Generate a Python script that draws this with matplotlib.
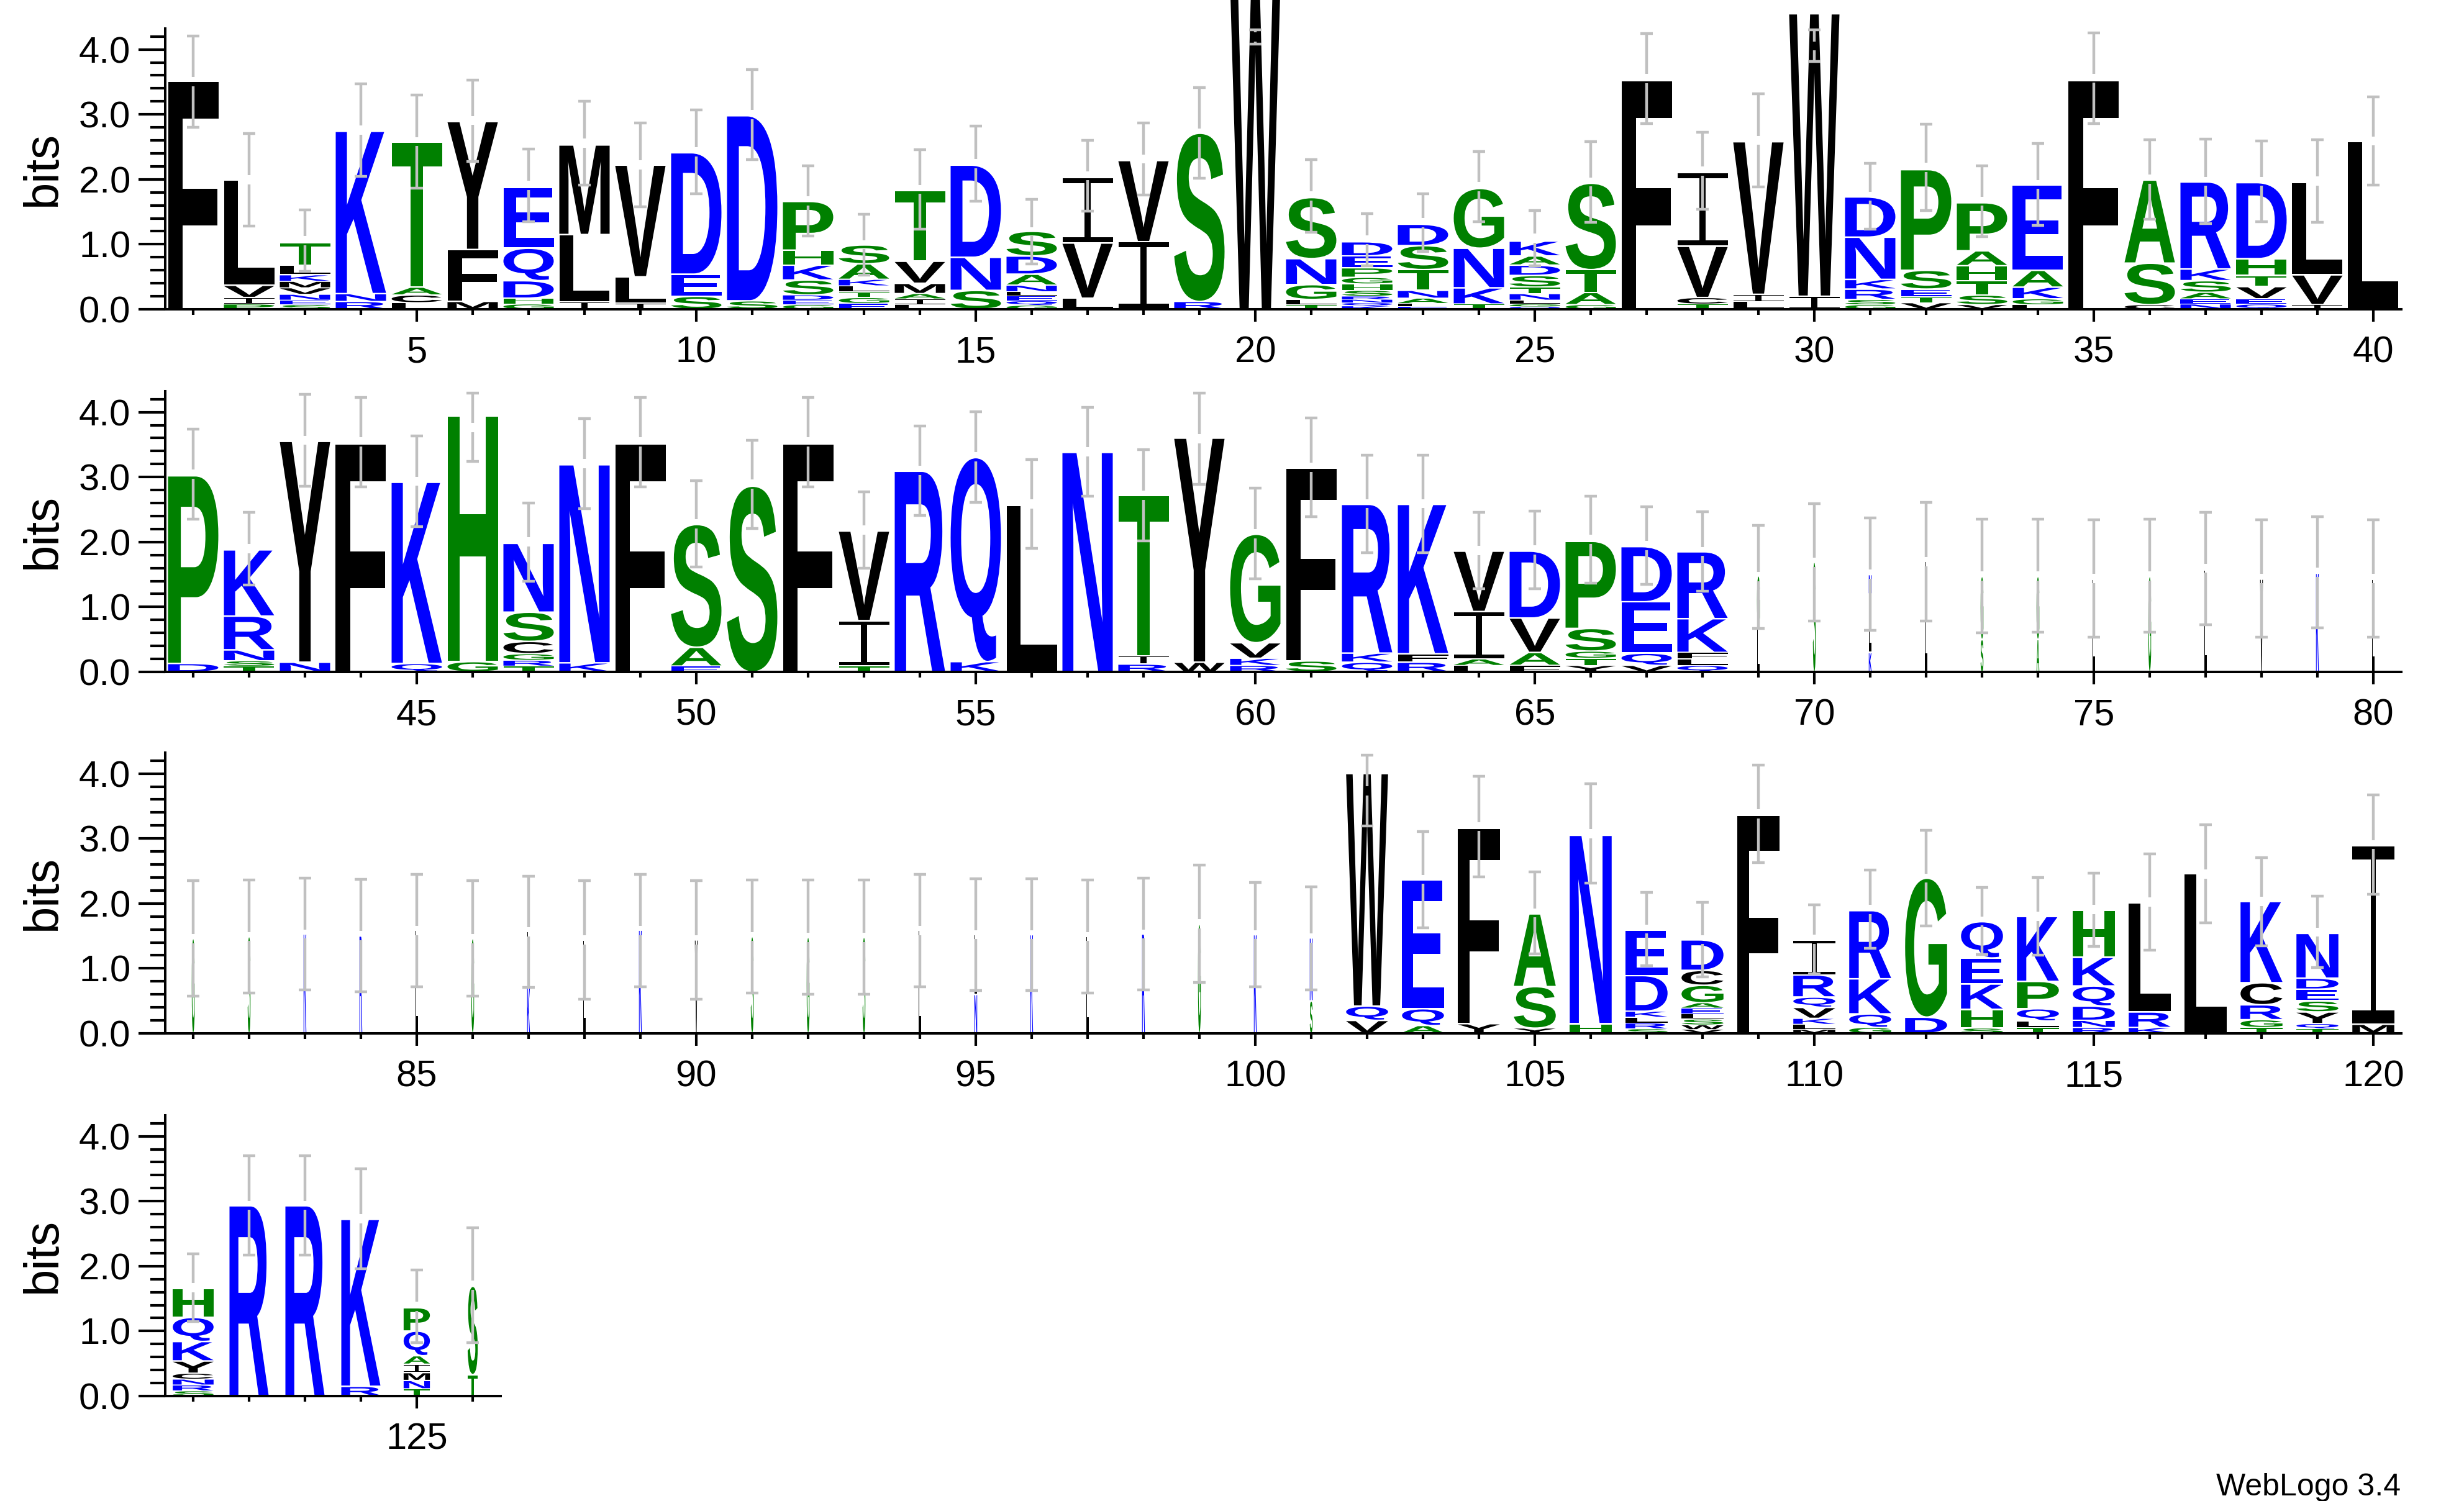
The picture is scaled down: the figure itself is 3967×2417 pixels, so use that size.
import matplotlib
matplotlib.use("Agg")
import matplotlib.pyplot as plt
from matplotlib.textpath import TextPath
from matplotlib.font_manager import FontProperties
from matplotlib.patches import PathPatch
from matplotlib.path import Path
from matplotlib.transforms import Affine2D
from matplotlib.ticker import FixedLocator, MultipleLocator, FormatStrFormatter

plt.rcParams['font.family'] = ['Liberation Sans', 'DejaVu Sans']

# ---------------- data (letter, bits), bottom -> top ----------------
stacks_row1 = [
    [('F', 3.51)],
    [('P', .08), ('I', .10), ('V', .19), ('L', 1.62)],
    [('S', .07), ('E', .07), ('N', .09), ('V', .10), ('M', .10), ('K', .10), ('L', .15), ('T', .35)],
    [('R', .12), ('N', .12), ('K', 2.50)],
    [('L', .10), ('C', .12), ('A', .12), ('T', 2.23)],
    [('M', .12), ('F', .80), ('Y', 1.97)],
    [('G', .08), ('H', .09), ('D', .27), ('Q', .50), ('E', .94)],
    [('I', .11), ('L', 1.04), ('M', 1.38)],
    [('I', .09), ('L', .41), ('V', 1.72)],
    [('S', .20), ('E', .34), ('D', 1.87)],
    [('S', .13), ('D', 2.85)],
    [('G', .07), ('E', .07), ('D', .08), ('S', .23), ('K', .23), ('H', .23), ('P', .75)],
    [('E', .09), ('G', .09), ('T', .09), ('L', .09), ('K', .10), ('A', .24), ('S', .29)],
    [('L', .07), ('I', .09), ('A', .08), ('M', .16), ('V', .34), ('T', 1.09)],
    [('S', .29), ('N', .51), ('D', 1.42)],
    [('G', .06), ('Q', .07), ('E', .08), ('L', .06), ('N', .10), ('A', .17), ('D', .28), ('S', .38)],
    [('L', .17), ('V', .85), ('I', 1.01)],
    [('I', 1.04), ('V', 1.25)],
    [('R', .12), ('S', 2.59)],
    [('W', 5.0)],
    [('T', .07), ('L', .08), ('G', .23), ('N', .40), ('S', .94)],
    [('K', .05), ('Q', .05), ('N', .05), ('R', .05), ('S', .09), ('H', .10), ('G', .10), ('P', .15), ('E', .18), ('D', .22)],
    [('E', .04), ('L', .05), ('A', .08), ('N', .12), ('T', .32), ('S', .37), ('D', .33)],
    [('T', .08), ('K', .25), ('N', .61), ('G', .92)],
    [('Q', .04), ('G', .04), ('L', .06), ('N', .10), ('T', .10), ('S', .18), ('D', .16), ('A', .14), ('K', .23)],
    [('G', .07), ('A', .19), ('T', .35), ('S', 1.33)],
    [('F', 3.52)],
    [('T', .08), ('C', .10), ('V', .79), ('I', 1.14)],
    [('L', .12), ('I', .11), ('V', 2.35)],
    [('I', .20), ('W', 4.35)],
    [('G', .07), ('S', .08), ('R', .16), ('K', .15), ('N', .65), ('D', .62)],
    [('V', .10), ('T', .09), ('E', .12), ('S', .29), ('P', 1.55)],
    [('V', .07), ('S', .15), ('T', .22), ('H', .23), ('A', .23), ('P', .74)],
    [('L', .07), ('G', .09), ('K', .18), ('A', .26), ('E', 1.31)],
    [('F', 3.52)],
    [('C', .07), ('S', .64), ('A', 1.28)],
    [('N', .08), ('E', .08), ('A', .10), ('S', .18), ('K', .18), ('R', 1.34)],
    [('Q', .08), ('E', .08), ('V', .19), ('T', .17), ('H', .26), ('D', 1.17)],
    [('I', .07), ('V', .46), ('L', 1.42)],
    [('L', 2.58)],
]

stacks_row2 = [
    [('D', .13), ('P', 2.89)],
    [('T', .09), ('S', .08), ('N', .17), ('R', .52), ('K', 1.02)],
    [('N', .15), ('Y', 3.40)],
    [('F', 3.51)],
    [('Q', .13), ('K', 2.79)],
    [('G', .16), ('H', 3.78)],
    [('T', .09), ('R', .09), ('G', .10), ('C', .19), ('S', .45), ('N', 1.06)],
    [('K', .14), ('N', 3.05)],
    [('F', 3.51)],
    [('E', .09), ('A', .29), ('S', 1.89)],
    [('S', 2.86)],
    [('F', 3.51)],
    [('T', .09), ('I', .70), ('V', 1.38)],
    [('R', 3.09)],
    [('K', .16), ('Q', 3.14)],
    [('L', 2.56)],
    [('N', 3.38)],
    [('R', .12), ('I', .13), ('T', 2.47)],
    [('W', .15), ('Y', 3.45)],
    [('R', .10), ('K', .11), ('V', .24), ('G', 1.67)],
    [('S', .17), ('F', 2.97)],
    [('Q', .15), ('K', .14), ('R', 2.29)],
    [('R', .15), ('F', .13), ('K', 2.30)],
    [('L', .10), ('A', .10), ('I', .73), ('V', .93)],
    [('F', .10), ('A', .20), ('V', .53), ('D', 1.03)],
    [('Y', .10), ('T', .11), ('G', .11), ('S', .35), ('P', 1.34)],
    [('V', .10), ('Q', .19), ('E', .79), ('D', .85)],
    [('Q', .10), ('L', .10), ('F', .10), ('K', .52), ('R', 1.03)],
    [('L', .70), ('G', .78)],
    [('S', 1.69)],
    [('K', .30), ('L', .90), ('N', .30)],
    [('L', 1.70)],
    [('S', .50), ('G', .97)],
    [('A', .50), ('G', .97)],
    [('L', 1.43)],
    [('G', 1.47)],
    [('L', 1.57)],
    [('V', 1.43)],
    [('K', 1.52)],
    [('L', 1.43)],
]

stacks_row3 = [
    [('G', 1.46)],
    [('S', 1.49)],
    [('K', 1.53)],
    [('R', 1.50)],
    [('L', 1.59)],
    [('G', 1.46)],
    [('K', .70), ('L', .87)],
    [('L', 1.44)],
    [('K', 1.59)],
    [('V', 1.44)],
    [('S', 1.49)],
    [('G', 1.48)],
    [('S', 1.48)],
    [('L', 1.59)],
    [('N', .60), ('L', .92)],
    [('K', 1.52)],
    [('L', 1.49)],
    [('R', 1.53)],
    [('G', 1.68)],
    [('K', 1.52)],
    [('S', .50), ('N', .97)],
    [('V', .20), ('Q', .22), ('W', 3.58)],
    [('A', .12), ('Q', .26), ('E', 1.98)],
    [('Y', .15), ('F', 3.01)],
    [('Y', .08), ('S', .64), ('A', 1.12)],
    [('H', .15), ('N', 2.90)],
    [('S', .07), ('R', .09), ('L', .09), ('K', .09), ('D', .55), ('E', .70)],
    [('V', .06), ('W', .07), ('S', .09), ('L', .08), ('E', .09), ('A', .08), ('G', .27), ('C', .23), ('D', .47)],
    [('F', 3.36)],
    [('M', .06), ('L', .08), ('K', .09), ('V', .17), ('Q', .16), ('R', .34), ('I', .54)],
    [('G', .09), ('Q', .21), ('K', .54), ('R', 1.05)],
    [('D', .25), ('G', 2.14)],
    [('S', .08), ('H', .29), ('K', .39), ('E', .40), ('Q', .56)],
    [('T', .09), ('L', .10), ('Q', .19), ('P', .42), ('K', 1.00)],
    [('R', .09), ('N', .11), ('D', .22), ('Q', .31), ('K', .44), ('H', .73)],
    [('K', .09), ('R', .24), ('L', 1.68)],
    [('L', 2.46)],
    [('T', .09), ('G', .12), ('R', .23), ('C', .34), ('K', 1.25)],
    [('T', .07), ('Q', .08), ('Y', .18), ('S', .17), ('E', .18), ('D', .17), ('N', .69)],
    [('M', .14), ('I', 2.75)],
]

stacks_row4 = [
    [('S', .08), ('R', .09), ('N', .09), ('C', .09), ('Y', .19), ('K', .30), ('Q', .37), ('H', .45)],
    [('R', 2.93)],
    [('R', 2.93)],
    [('R', .15), ('K', 2.57)],
    [('T', .11), ('N', .13), ('M', .12), ('I', .13), ('A', .13), ('Q', .38), ('P', .36)],
    [('T', .33), ('S', 1.36)],
]

# error bar ends (bits), positions 1..126
err_hi = [
    4.21, 2.71, 1.53, 3.47, 3.30, 3.53, 2.47, 3.20, 2.87, 3.07,
    3.69, 2.21, 1.46, 2.46, 2.82, 1.69, 2.60, 2.87, 3.41, 4.30,
    2.30, 1.47, 1.78, 2.43, 1.52, 2.58, 4.24, 2.72, 3.32, 4.30,
    2.25, 2.85, 2.21, 2.55, 4.25, 2.61, 2.62, 2.59, 2.61, 3.27,
    3.74, 2.46, 4.27, 4.23, 3.63, 4.29, 2.60, 3.90, 4.23, 2.94,
    3.57, 4.23, 2.77, 3.79, 4.01, 3.27, 4.07, 3.42, 4.29, 2.83,
    3.91, 3.34, 3.34, 2.46, 2.48, 2.71, 2.54, 2.47, 2.26, 2.59,
    2.37, 2.61, 2.35, 2.35, 2.34, 2.35, 2.46, 2.34, 2.39, 2.34,
    2.35, 2.36, 2.39, 2.37, 2.45, 2.35, 2.42, 2.35, 2.45, 2.35,
    2.36, 2.36, 2.36, 2.45, 2.38, 2.38, 2.36, 2.39, 2.59, 2.32,
    2.26, 4.28, 3.11, 3.96, 2.49, 3.84, 2.17, 2.02, 4.13, 1.98,
    2.51, 3.13, 2.25, 2.40, 2.47, 2.76, 3.21, 2.71, 2.11, 3.67,
    2.19, 3.70, 3.70, 3.50, 1.94, 2.59,
]
err_lo = [
    2.80, 1.28, 0.58, 2.05, 1.86, 2.28, 1.35, 1.91, 1.58, 1.78,
    2.30, 1.13, 0.53, 1.23, 1.66, 0.70, 1.51, 1.76, 2.02, 4.08,
    1.19, 0.67, 0.89, 1.35, 0.67, 1.34, 2.86, 1.54, 1.88, 3.81,
    1.23, 1.52, 1.12, 1.29, 2.86, 1.39, 1.32, 1.35, 1.34, 1.91,
    2.35, 1.34, 2.86, 2.85, 2.24, 3.24, 1.40, 2.51, 2.85, 1.62,
    2.21, 2.85, 1.60, 2.41, 2.61, 1.90, 2.71, 2.02, 2.89, 1.43,
    2.39, 1.84, 1.84, 1.28, 1.28, 1.37, 1.35, 1.24, 0.67, 0.78,
    0.64, 0.78, 0.60, 0.61, 0.54, 0.61, 0.73, 0.54, 0.68, 0.54,
    0.57, 0.62, 0.67, 0.64, 0.72, 0.57, 0.71, 0.53, 0.72, 0.53,
    0.62, 0.60, 0.60, 0.72, 0.66, 0.66, 0.62, 0.67, 0.78, 0.72,
    0.67, 3.19, 1.63, 2.41, 1.22, 2.31, 1.04, 0.87, 2.63, 0.92,
    1.31, 1.65, 1.21, 1.20, 1.34, 1.28, 1.70, 1.35, 1.01, 2.14,
    1.15, 2.17, 2.17, 1.96, 0.82, 0.82,
]

# stack width (fraction of column) per position 1..126
stack_width = ([0.90] * 68 + [0.05] * 33 + [0.75] * 19
               + [0.73, 0.70, 0.70, 0.70, 0.47, 0.18])

row_ranges = [(1, 40), (41, 80), (81, 120), (121, 126)]
row_stacks = [stacks_row1, stacks_row2, stacks_row3, stacks_row4]

# ---------------- style / layout ----------------
BLUE, GREEN, BLACK = '#0000ff', '#008000', '#000000'
def letter_color(ch):
    if ch in 'RKDENQ':
        return BLUE
    if ch in 'SGHTAP':
        return GREEN
    return BLACK

fp = FontProperties(family='Liberation Sans', weight='bold')
_cache = {}
def unit_glyph(ch):
    if ch in _cache:
        return _cache[ch]
    if ch == 'I':
        bar, stem = 0.075, 0.12
        verts, codes = [], []
        def rect(x0, y0, x1, y1):
            verts.extend([(x0, y0), (x1, y0), (x1, y1), (x0, y1), (x0, y0)])
            codes.extend([Path.MOVETO, Path.LINETO, Path.LINETO, Path.LINETO, Path.CLOSEPOLY])
        rect(0, 0, 1, bar)
        rect(0.5 - stem / 2, bar, 0.5 + stem / 2, 1 - bar)
        rect(0, 1 - bar, 1, 1)
        p = Path(verts, codes)
    else:
        tp = TextPath((0, 0), ch, size=100, prop=fp)
        ext = tp.get_extents()
        p = Affine2D().translate(-ext.x0, -ext.y0).scale(1 / ext.width, 1 / ext.height).transform_path(tp)
    _cache[ch] = p
    return p

W, H = 3967, 2417
fig = plt.figure(figsize=(W / 100, H / 100), dpi=100)
fig.patch.set_facecolor('white')

baselines = [498, 1082, 1664, 2248]
x0px, pxpos, bitpx, ymax = 266, 90.0, 104.6, 4.3219
ERR_C = '#c0c0c0'

for (a, b), stacks, base in zip(row_ranges, row_stacks, baselines):
    n = b - a + 1
    ax = fig.add_axes([x0px / W, (H - base) / H, n * pxpos / W, ymax * bitpx / H])
    ax.set_xlim(a - 0.5, b + 0.5)
    ax.set_ylim(0, ymax)
    ax.set_facecolor('none')
    for s in ['top', 'right']:
        ax.spines[s].set_visible(False)
    for s in ['left', 'bottom']:
        ax.spines[s].set_linewidth(2.9)

    for i, stack in enumerate(stacks):
        pos = a + i
        w = stack_width[pos - 1]
        y = 0.0
        for ch, h in stack:
            pad = min(0.012, h * 0.08)
            t = Affine2D().scale(w, h - 2 * pad).translate(pos - w / 2, y + pad)
            path = t.transform_path(unit_glyph(ch))
            ax.add_patch(PathPatch(path, facecolor=letter_color(ch), edgecolor='none',
                                   lw=0, clip_on=False, zorder=2))
            y += h
        lo, hi = err_lo[pos - 1], err_hi[pos - 1]
        c = (lo + hi) / 2
        g = 0.07
        if hi - c > g:
            ax.plot([pos, pos], [c + g, hi], color=ERR_C, lw=3.2, solid_capstyle='butt', zorder=3, clip_on=False)
            ax.plot([pos, pos], [lo, c - g], color=ERR_C, lw=3.2, solid_capstyle='butt', zorder=3, clip_on=False)
        else:
            ax.plot([pos, pos], [lo, hi], color=ERR_C, lw=3.2, solid_capstyle='butt', zorder=3, clip_on=False)
        for yy in (lo, hi):
            ax.plot([pos - 0.11, pos + 0.11], [yy, yy], color=ERR_C, lw=3.2,
                    solid_capstyle='butt', zorder=3, clip_on=False)

    ax.yaxis.set_major_locator(FixedLocator([0, 1, 2, 3, 4]))
    ax.yaxis.set_minor_locator(MultipleLocator(0.2))
    ax.yaxis.set_major_formatter(FormatStrFormatter('%.1f'))
    ax.tick_params(axis='y', which='major', length=31, width=3, labelsize=43, pad=9)
    ax.tick_params(axis='y', which='minor', length=17, width=3)
    ax.xaxis.set_major_locator(FixedLocator([p for p in range(a, b + 1) if p % 5 == 0]))
    ax.xaxis.set_minor_locator(FixedLocator(list(range(a, b + 1))))
    ax.tick_params(axis='x', which='major', length=14.5, width=3, labelsize=43, pad=16)
    ax.tick_params(axis='x', which='minor', length=6.5, width=3)

    fig.text(69 / W, (H - base + ymax * bitpx / 2) / H, 'bits', rotation=90,
             ha='center', va='center', fontsize=56)

fig.text(3865 / W, 1 - 2408 / H, 'WebLogo 3.4', ha='right', va='baseline', fontsize=36)

fig.savefig('out.png', dpi=100, facecolor='white')
